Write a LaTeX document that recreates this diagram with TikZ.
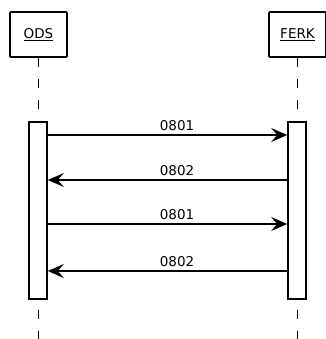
\documentclass[tikz,border=0pt]{standalone}
\usepackage{fontspec}
\setmainfont{DejaVu Sans}
\usetikzlibrary{positioning, arrows.meta}

\begin{document}
\begin{tikzpicture}[
  x=1pt, y=-1pt,
  every node/.style={font=\fontsize{13.5}{16}\selectfont},
  actor/.style={draw, line width=1.6pt, rounded corners=0.8pt, minimum width=57pt, minimum height=45pt, inner sep=0pt},
  actbar/.style={draw, fill=white, line width=1.6pt, minimum width=18pt, minimum height=177pt, inner sep=0pt},
  lifeline/.style={line width=1pt, dash pattern=on 9pt off 12pt},
  msg/.style={line width=1.6pt, -{Stealth[length=16pt, width=14pt, inset=6pt]}},
  msglabel/.style={above=3.5pt, pos=0.54, inner sep=0pt}
]
\useasboundingbox (0,0) rectangle (325,339);

% Actors
\node[actor] (ods) at (38.5,34.5) {\underline{ODS}};
\node[actor] (ferk) at (297.5,34.5) {\underline{FERK}};

% Lifelines
\draw[lifeline] (ods.south) -- ++(0,290);
\draw[lifeline] (ferk.south) -- ++(0,290);

% Activation bars
\node[actbar] (odsbar) at (38,210.5) {};
\node[actbar] (ferkbar) at (297,210.5) {};

% Messages
\coordinate (r1) at (0,135);
\coordinate (r2) at (0,180);
\coordinate (r3) at (0,224);
\coordinate (r4) at (0,271);
\draw[msg] (odsbar.east |- r1) -- (ferkbar.west |- r1) node[msglabel] {0801};
\draw[msg] (ferkbar.west |- r2) -- (odsbar.east |- r2) node[msglabel, pos=0.46] {0802};
\draw[msg] (odsbar.east |- r3) -- (ferkbar.west |- r3) node[msglabel] {0801};
\draw[msg] (ferkbar.west |- r4) -- (odsbar.east |- r4) node[msglabel, pos=0.46] {0802};

\end{tikzpicture}
\end{document}
